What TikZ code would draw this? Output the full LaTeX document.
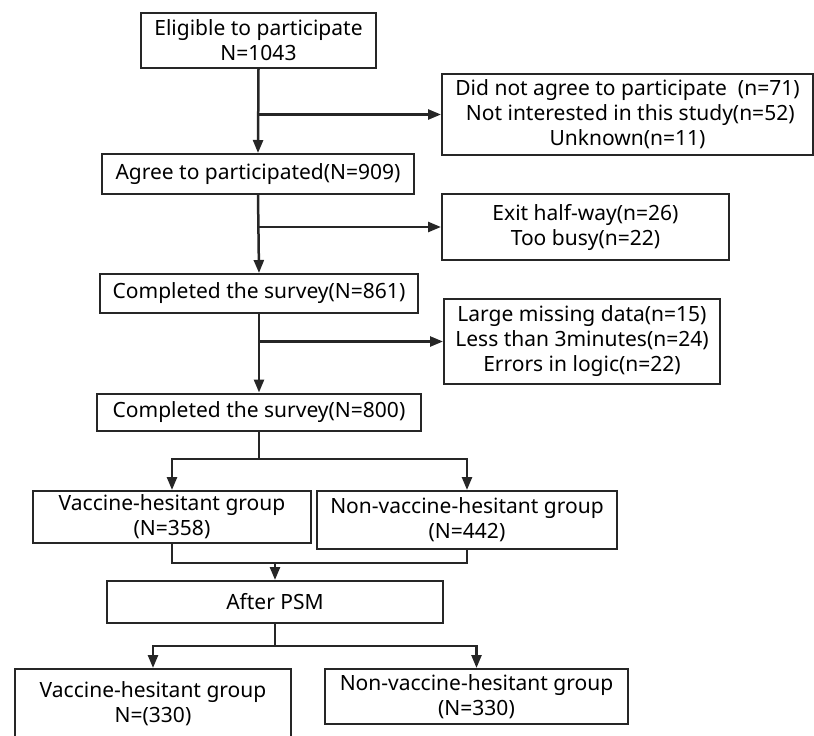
\documentclass[tikz,border=0pt]{standalone}
\usepackage{fontspec}
\setmainfont{Noto Sans}
\usetikzlibrary{arrows.meta}
\begin{document}
\begin{tikzpicture}[x=1pt,y=-1pt,
  stagebox/.style={draw=black!85, line width=2pt, align=center, inner sep=0pt,
    font=\fontsize{21}{25}\selectfont},
  link/.style={draw=black!85, line width=2.5pt},
  flow/.style={link, -{Triangle[length=13pt,width=10pt]}}]
\useasboundingbox (0,0) rectangle (814,736);
% main column
\node[stagebox, minimum width=235pt, minimum height=55pt] (eligible) at (258.5,40.5) {Eligible to participate\\N=1043};
\node[stagebox, minimum width=312pt, minimum height=40pt] (agree) at (258,174) {Agree to participated(N=909)};
\node[stagebox, minimum width=318pt, minimum height=39pt] (survey861) at (259,293.5) {Completed the survey(N=861)};
\node[stagebox, minimum width=324pt, minimum height=37pt] (survey800) at (259,412) {Completed the survey(N=800)};
% exclusions
\node[stagebox, minimum width=371pt, minimum height=81pt] (notagree) at (627.5,114.5) {Did not agree to participate\ \ (n=71)\\\ Not interested in this study(n=52)\\Unknown(n=11)};
\node[stagebox, minimum width=287pt, minimum height=66pt] (exit) at (585.5,227) {Exit half-way(n=26)\\Too busy(n=22)};
\node[stagebox, minimum width=276pt, minimum height=85pt] (missing) at (582,341.5) {Large missing data(n=15)\\Less than 3minutes(n=24)\\Errors in logic(n=22)};
% groups
\node[stagebox, minimum width=278pt, minimum height=52pt] (vh) at (172,517) {Vaccine-hesitant group\\(N=358)};
\node[stagebox, minimum width=300pt, minimum height=58pt] (nvh) at (467,520) {Non-vaccine-hesitant group\\(N=442)};
\node[stagebox, minimum width=336pt, minimum height=42pt] (psm) at (275,602) {After PSM};
\node[stagebox, minimum width=276pt, minimum height=70pt] (vhpsm) at (153,704) {Vaccine-hesitant group\\N=(330)};
\node[stagebox, minimum width=303pt, minimum height=55pt] (nvhpsm) at (476.5,696.5) {Non-vaccine-hesitant group\\(N=330)};
\coordinate (split1) at (259,459);
\coordinate (join1) at (275,563);
\coordinate (split2) at (275,646);
% arrows
\draw[flow] (eligible.south) -- (agree.north);
\draw[flow] (eligible.south |- notagree.west) -- (notagree.west);
\draw[flow] (agree.south) -- (survey861.north);
\draw[flow] (agree.south |- exit.west) -- (exit.west);
\draw[flow] (survey861.south) -- (survey800.north);
\draw[flow] (survey861.south |- missing.west) -- (missing.west);
\draw[link] (survey800.south) -- (split1);
\draw[flow] (split1) -| (vh.north);
\draw[flow] (split1) -| (nvh.north);
\draw[link] (vh.south) |- (join1);
\draw[link] (nvh.south) |- (join1);
\draw[flow] (join1) -- (psm.north);
\draw[link] (psm.south) -- (split2);
\draw[flow] (split2) -| (vhpsm.north);
\draw[flow] (split2) -| (nvhpsm.north);
\end{tikzpicture}
\end{document}
